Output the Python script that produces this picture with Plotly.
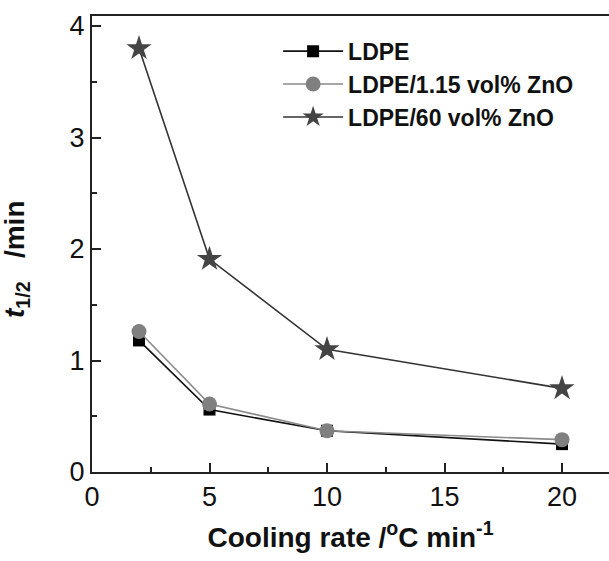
import plotly.graph_objects as go

cooling_rate = [2, 5, 10, 20]
ldpe = [1.18, 0.56, 0.37, 0.25]
ldpe_zno_115 = [1.26, 0.61, 0.37, 0.29]
ldpe_zno_60 = [3.80, 1.91, 1.10, 0.75]

x_ticks = [0, 5, 10, 15, 20]
y_ticks = [0, 1, 2, 3, 4]

fig = go.Figure()
fig.add_trace(go.Scatter(
    x=cooling_rate, y=ldpe, mode="lines+markers", name="LDPE",
    line=dict(color="#111111", width=1.6),
    marker=dict(symbol="square", size=12, color="#000000")))
fig.add_trace(go.Scatter(
    x=cooling_rate, y=ldpe_zno_115, mode="lines+markers", name="LDPE/1.15 vol% ZnO",
    line=dict(color="#8a8a8a", width=1.6),
    marker=dict(symbol="circle", size=15, color="#808080")))
fig.add_trace(go.Scatter(
    x=cooling_rate, y=ldpe_zno_60, mode="lines+markers", name="LDPE/60 vol% ZnO",
    line=dict(color="#333333", width=1.6),
    marker=dict(symbol="star", size=19, color="#444444")))

axis_font = dict(family="Liberation Sans, Arial, sans-serif", size=27, color="#111111")

fig.update_layout(
    width=609, height=561,
    margin=dict(l=92, r=0, t=16, b=89),
    paper_bgcolor="white", plot_bgcolor="white",
    showlegend=True,
    legend=dict(
        x=0.36, y=0.97, xanchor="left", yanchor="top",
        font=dict(family="Liberation Sans, Arial, sans-serif", size=23, color="#111111", weight="bold"),
        bgcolor="rgba(0,0,0,0)", tracegroupgap=0, itemwidth=60,
    ),
    xaxis=dict(
        range=[0, 22], tickvals=x_ticks, ticktext=[str(v) for v in x_ticks],
        showgrid=False, zeroline=False,
        showline=True, linecolor="#222222", linewidth=2, mirror=True,
        ticks="inside", ticklen=9, tickwidth=2, tickcolor="#222222",
        minor=dict(dtick=2.5, tick0=0, ticks="inside", ticklen=5, tickwidth=2, tickcolor="#222222"),
        tickfont=axis_font,
        title=dict(text="<b>Cooling rate /<sup>o</sup>C min<sup>-1</sup></b>",
                   font=dict(family="Liberation Sans, Arial, sans-serif", size=28, color="#111111"),
                   standoff=16),
    ),
    yaxis=dict(
        range=[0, 4.09], tickvals=y_ticks, ticktext=[str(v) for v in y_ticks],
        showgrid=False, zeroline=False,
        showline=True, linecolor="#222222", linewidth=2, mirror=False,
        ticks="inside", ticklen=9, tickwidth=2, tickcolor="#222222",
        minor=dict(dtick=0.5, tick0=0, ticks="inside", ticklen=5, tickwidth=2, tickcolor="#222222"),
        tickfont=axis_font,
    ),
    annotations=[dict(
        text="<b><i>t</i><sub>1/2</sub>   /min</b>",
        textangle=-90, xref="paper", yref="paper",
        x=-0.145, y=0.465, xanchor="center", yanchor="middle", showarrow=False,
        font=dict(family="Liberation Sans, Arial, sans-serif", size=28, color="#111111"),
    )],
)

fig.write_html("out.html")
